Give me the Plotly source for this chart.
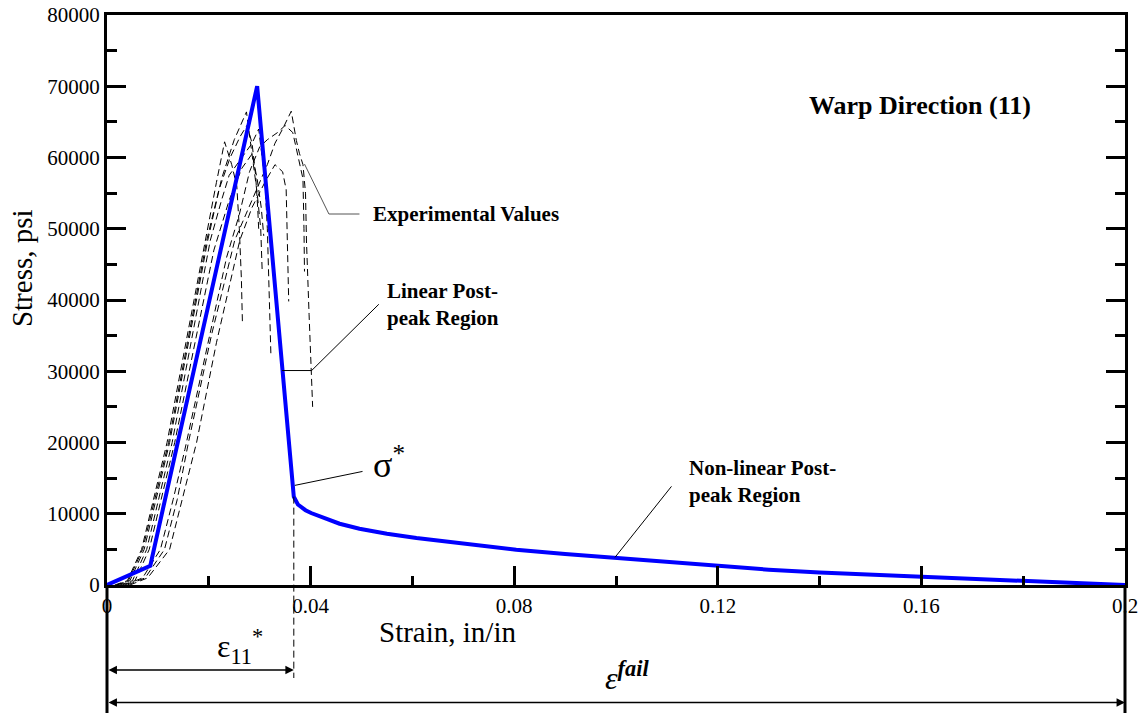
import plotly.graph_objects as go

# ---- model curve (warp direction, 11) ----
model_strain = [0, 0.0085, 0.0295, 0.0367, 0.0375, 0.0390, 0.0401, 0.0430, 0.0457, 0.0496,
                0.055, 0.0608, 0.070, 0.0804, 0.090, 0.1001, 0.110, 0.120, 0.130, 0.140,
                0.150, 0.160, 0.170, 0.180, 0.190, 0.200]
model_stress = [0, 2700, 70000, 12400, 11300, 10500, 10100, 9300, 8600, 7900,
                7200, 6600, 5800, 4950, 4350, 3800, 3200, 2650, 2150, 1750,
                1450, 1200, 850, 520, 250, 0]

# characteristic point (sigma*, eps11*)
eps_star = 0.0367
sig_star = 12400
eps_fail = 0.2

# ---- experimental test records ----
exp1_strain = [0.0015, 0.004, 0.0068, 0.0093, 0.0118, 0.0155, 0.0193, 0.0215, 0.0231, 0.0245, 0.0255, 0.0260, 0.0264, 0.0266]
exp1_stress = [0, 600, 5000, 12500, 20000, 34000, 48400, 56500, 62200, 59000, 56000, 50000, 43000, 37000]

exp2_strain = [0.002, 0.0045, 0.0073, 0.0098, 0.0123, 0.0160, 0.0198, 0.0225, 0.0250, 0.0274, 0.0285, 0.0295, 0.0302, 0.0305]
exp2_stress = [0, 600, 5000, 12500, 20000, 34000, 48400, 57000, 62500, 66400, 60000, 55000, 50000, 43800]

exp3_strain = [0.0025, 0.005, 0.0078, 0.0103, 0.0128, 0.0165, 0.0203, 0.0225, 0.0240, 0.0260, 0.0285, 0.0298, 0.0310, 0.0315, 0.0318, 0.0322]
exp3_stress = [0, 600, 5000, 12500, 20000, 34000, 48400, 54000, 57500, 59500, 62000, 64000, 57000, 50000, 42000, 32300]

exp4_strain = [0.003, 0.0055, 0.0083, 0.0108, 0.0133, 0.0170, 0.0210, 0.0240, 0.0265, 0.0285, 0.0295, 0.0303, 0.0308]
exp4_stress = [0, 600, 5000, 12500, 20000, 33000, 47000, 54000, 58500, 60500, 57000, 53000, 49000]

exp5_strain = [0.0018, 0.0042, 0.0070, 0.0096, 0.0121, 0.0158, 0.0196, 0.0220, 0.0242, 0.0262, 0.0275, 0.0285, 0.0292, 0.0296, 0.0298]
exp5_stress = [0, 600, 5000, 12500, 20000, 34000, 48400, 55500, 60000, 63000, 64500, 62000, 57500, 53000, 50000]

exp6_strain = [0.004, 0.0075, 0.0113, 0.0138, 0.0160, 0.0205, 0.0251, 0.0290, 0.0315, 0.0330, 0.0345, 0.0362, 0.0372, 0.0378, 0.0385, 0.0390, 0.0392, 0.0397, 0.0401, 0.0404]
exp6_stress = [0, 1000, 5000, 12000, 20000, 35000, 48400, 55000, 59000, 62000, 64000, 66500, 62400, 60600, 59000, 55000, 48000, 38000, 30000, 25000]

exp7_strain = [0.0045, 0.008, 0.0123, 0.0150, 0.0176, 0.0215, 0.0261, 0.0285, 0.0310, 0.0330, 0.0345, 0.0352, 0.0354, 0.0356, 0.0357]
exp7_stress = [0, 1000, 5000, 12500, 20000, 34000, 48400, 53000, 56500, 59000, 58000, 55500, 50000, 44000, 39800]

exp8_strain = [0.0035, 0.007, 0.0105, 0.0130, 0.0153, 0.0195, 0.0235, 0.0260, 0.0280, 0.0300, 0.0315, 0.0335, 0.0350, 0.0365, 0.0375, 0.0385, 0.0387, 0.0388]
exp8_stress = [0, 1000, 5000, 12000, 19000, 33000, 46000, 52000, 58000, 61500, 62500, 63500, 64500, 63500, 60000, 57000, 50000, 44000]

experiments = [
    (exp1_strain, exp1_stress), (exp2_strain, exp2_stress), (exp3_strain, exp3_stress),
    (exp4_strain, exp4_stress), (exp5_strain, exp5_stress), (exp6_strain, exp6_stress),
    (exp7_strain, exp7_stress), (exp8_strain, exp8_stress),
]

# axis ticks
x_tickvals = [0, 0.04, 0.08, 0.12, 0.16, 0.2]
x_ticktext = ["0", "0.04", "0.08", "0.12", "0.16", "0.2"]
y_tickvals = [0, 10000, 20000, 30000, 40000, 50000, 60000, 70000, 80000]
y_ticktext = ["0", "10000", "20000", "30000", "40000", "50000", "60000", "70000", "80000"]

# callout leader lines (strain, stress)
lead_exp_x = [0.0388, 0.0436, 0.0496]
lead_exp_y = [59080, 52070, 52070]
lead_lin_x = [0.0344, 0.0402, 0.0534]
lead_lin_y = [30100, 30100, 39400]
lead_sig_x = [0.0369, 0.0502]
lead_sig_y = [13980, 15940]
lead_non_x = [0.0998, 0.1109]
lead_non_y = [3880, 13840]

SERIF = "Liberation Serif"
W, H = 1147, 713
ML, MR, MT, MB = 107, 22, 15, 128
plot_w = W - ML - MR
plot_h = H - MT - MB


def py(px_below_axis):
    """paper y for a pixel offset below the x axis"""
    return -px_below_axis / plot_h


def px(px_from_left_edge):
    """paper x for a pixel offset from the left axis"""
    return px_from_left_edge / plot_w


fig = go.Figure()

for sx, sy in experiments:
    fig.add_trace(go.Scatter(x=sx, y=sy, mode="lines",
                             line=dict(color="black", width=1, dash="7px,4px"),
                             showlegend=False, hoverinfo="skip"))

fig.add_trace(go.Scatter(x=model_strain, y=model_stress, mode="lines",
                         line=dict(color="#0000ff", width=4),
                         showlegend=False))

shapes = []
# leader lines
for lx, ly, col in [(lead_exp_x, lead_exp_y, "#555555"), (lead_lin_x, lead_lin_y, "black"),
                    (lead_sig_x, lead_sig_y, "black"), (lead_non_x, lead_non_y, "black")]:
    for i in range(len(lx) - 1):
        shapes.append(dict(type="line", xref="x", yref="y", x0=lx[i], y0=ly[i],
                           x1=lx[i + 1], y1=ly[i + 1], line=dict(color=col, width=1)))

# dashed drop line at eps11*
shapes.append(dict(type="line", xref="x", yref="paper", x0=eps_star, x1=eps_star,
                   y0=sig_star / 80000, y1=py(93), line=dict(color="black", width=1, dash="7px,4px")))

# frame lines extended below the axis
for xp in (0, 1):
    shapes.append(dict(type="line", xref="paper", yref="paper", x0=xp, x1=xp,
                       y0=py(MB), y1=0, line=dict(color="black", width=3)))

annotations = [
    dict(x=0.1597, y=67350, xref="x", yref="y", text="<b>Warp Direction (11)</b>",
         xanchor="center", yanchor="middle", showarrow=False,
         font=dict(family=SERIF, size=26, color="black")),
    dict(x=lead_exp_x[-1] + 0.0023, y=lead_exp_y[-1], xref="x", yref="y",
         xanchor="left", yanchor="middle",
         text="<b>Experimental Values</b>", showarrow=False,
         font=dict(family=SERIF, size=21, color="black")),
    dict(x=lead_lin_x[-1] + 0.0013, y=lead_lin_y[-1], xref="x", yref="y",
         xanchor="left", yanchor="middle", align="left",
         text="<b>Linear Post-<br>peak Region</b>", showarrow=False,
         font=dict(family=SERIF, size=21, color="black")),
    dict(x=lead_non_x[-1] + 0.003, y=lead_non_y[-1] + 700, xref="x", yref="y",
         xanchor="left", yanchor="middle", align="left",
         text="<b>Non-linear Post-<br>peak Region</b>", showarrow=False,
         font=dict(family=SERIF, size=21, color="black")),
    dict(x=lead_sig_x[-1] + 0.0016, y=lead_sig_y[-1] + 1300, xref="x", yref="y",
         xanchor="left", yanchor="middle",
         text="σ<sup>*</sup>", showarrow=False,
         font=dict(family=SERIF, size=36, color="black")),
    dict(x=px(340), y=py(47), xref="paper", yref="paper", text="Strain, in/in",
         xanchor="center", yanchor="middle",
         showarrow=False, font=dict(family=SERIF, size=29, color="black")),
    dict(x=px(-85), y=0.556, xref="paper", yref="paper", text="Stress, psi", textangle=-90,
         xanchor="center", yanchor="middle",
         showarrow=False, font=dict(family=SERIF, size=29, color="black")),
    dict(x=0.0213, y=py(62), xref="x", yref="paper", xanchor="left", yanchor="middle",
         text="ε<sub>11</sub><sup>*</sup>", showarrow=False,
         font=dict(family=SERIF, size=32, color="black")),
    dict(x=0.1021, y=py(91), xref="x", yref="paper", xanchor="center", yanchor="middle",
         text="<i>ε</i><sup><b><i>fail</i></b></sup>", showarrow=False,
         font=dict(family=SERIF, size=32, color="black")),
    # dimension arrows
    dict(x=eps_star, y=py(85), xref="x", yref="paper", ax=0, ay=0, axref="x", ayref="pixel",
         text="", showarrow=True, arrowhead=2, arrowside="end+start", arrowsize=1.3,
         arrowwidth=1.3, arrowcolor="black", standoff=0, startstandoff=0),
    dict(x=eps_fail, y=py(117.5), xref="x", yref="paper", ax=0, ay=0, axref="x", ayref="pixel",
         text="", showarrow=True, arrowhead=2, arrowside="end+start", arrowsize=1.3,
         arrowwidth=1.3, arrowcolor="black", standoff=0, startstandoff=0),
]

fig.update_layout(
    width=W, height=H,
    margin=dict(l=ML, r=MR, t=MT, b=MB, pad=0, autoexpand=False),
    paper_bgcolor="white", plot_bgcolor="white",
    showlegend=False,
    shapes=shapes, annotations=annotations,
    font=dict(family=SERIF, color="black"),
    xaxis=dict(range=[0, 0.2], tickmode="array", tickvals=x_tickvals, ticktext=x_ticktext,
               automargin=False,
               showline=True, linewidth=3, linecolor="black", mirror=True,
               ticks="inside", ticklen=19, tickwidth=3, tickcolor="black",
               minor=dict(dtick=0.02, ticks="inside", ticklen=9, tickwidth=3, tickcolor="black"),
               showgrid=False, zeroline=False,
               tickfont=dict(family=SERIF, size=21, color="black")),
    yaxis=dict(range=[0, 80000], tickmode="array", tickvals=y_tickvals, ticktext=y_ticktext,
               automargin=False,
               showline=True, linewidth=3, linecolor="black", mirror="ticks",
               ticks="inside", ticklen=19, tickwidth=3, tickcolor="black",
               minor=dict(dtick=5000, ticks="inside", ticklen=10, tickwidth=3, tickcolor="black"),
               showgrid=False, zeroline=False,
               tickfont=dict(family=SERIF, size=21, color="black")),
)

fig.write_html("out.html")
